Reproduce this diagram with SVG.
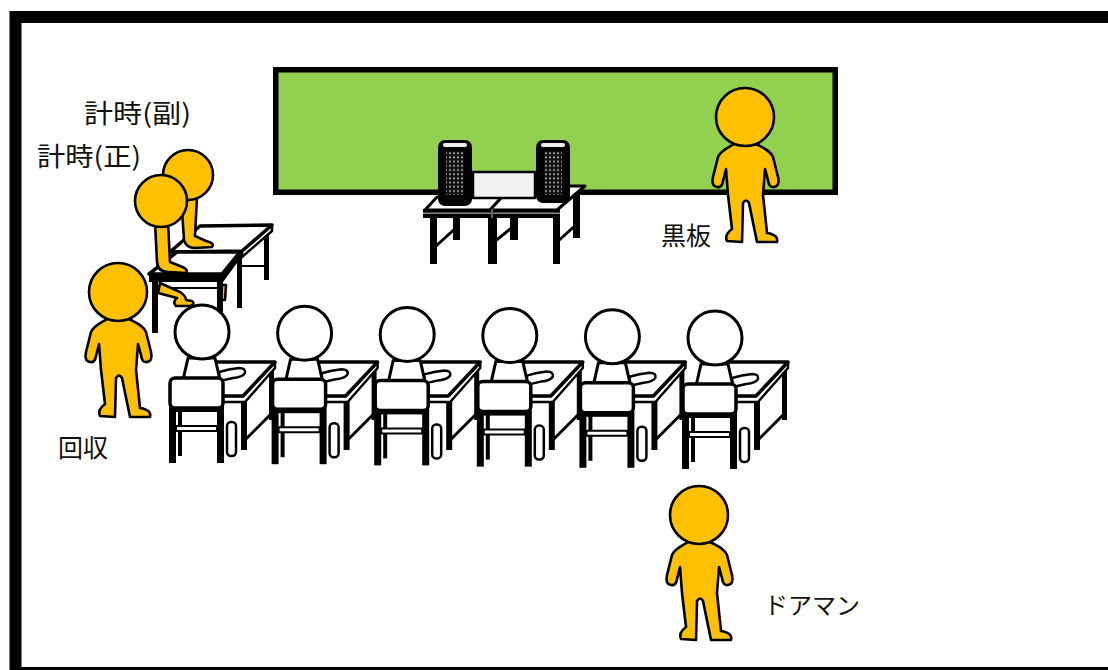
<svg xmlns="http://www.w3.org/2000/svg" width="1108" height="670" viewBox="0 0 1108 670">
  <style>
    .lbl { font-family: "Noto Sans CJK JP", "Noto Sans", sans-serif; fill: #111; }
    .ink { fill: #000; }
    .wht { fill: #fff; stroke: #000; stroke-linejoin: round; }
    .org { fill: #FFC000; stroke: #000; stroke-width: 2.6; stroke-linejoin: round; }
  </style>
  <defs>
    <pattern id="grill" width="4" height="4.2" patternUnits="userSpaceOnUse">
      <rect width="4" height="4.2" fill="#111"/>
      <circle cx="2" cy="2" r="0.9" fill="#c8c8c8"/>
    </pattern>
    <!-- pupil desk, origin = back-right corner of the desk top -->
    <g id="desk">
      <rect class="ink" x="-6" y="2" width="5" height="56"/>
      <line x1="-4" y1="52" x2="-30" y2="78" stroke="#000" stroke-width="3"/>
      <rect class="ink" x="-34" y="36" width="6" height="52"/>
      <polygon class="wht" stroke-width="2.5" points="0,0 0,6 -30,40 -94,40 -94,34 -32,34"/>
      <polygon class="wht" stroke-width="3.5" points="-62,0 0,0 -32,34 -94,34"/>
    </g>
    <!-- pupil seen from behind, with chair -->
    <g id="pupil">
      <path class="wht" stroke-width="3" d="M-87,-4 L-60,-4 L-55,18 L-92,18 Z"/>
      <circle class="wht" stroke-width="3" cx="-73" cy="-30" r="27"/>
      <path class="wht" stroke-width="2.5" d="M-56,10 Q-46,7 -36,6 Q-29,6 -30,11 Q-32,15 -42,16 L-55,19 Z"/>
      <rect class="wht" stroke-width="2.5" x="-48" y="60" width="9" height="34" rx="4"/>
      <rect class="ink" x="-106" y="44" width="7" height="57"/>
      <rect class="ink" x="-97" y="46" width="4" height="48"/>
      <rect class="ink" x="-58" y="44" width="7" height="57"/>
      <rect class="wht" stroke-width="2" x="-99" y="64" width="41" height="5"/>
      <rect class="ink" x="-105" y="44" width="53" height="6"/>
      <rect class="wht" stroke-width="3.5" x="-105" y="16" width="53" height="30" rx="5"/>
    </g>
    <!-- standing figure, origin = head centre -->
    <g id="standing">
      <path class="org" d="M-11,27 C-17,31 -24,33 -27,40 L-32,60 Q-34,69 -28,70 Q-23,71 -22,64 L-19,52 L-17,78 L-13,112 Q-21,118 -18,124 L-3,125 L-2,86 Q1,81 4,86 L12,125 L32,125 Q34,118 22,116 L18,78 L20,52 L23,63 Q24,71 29,70 Q35,69 33,60 L28,40 C25,33 18,31 11,27 Z"/>
      <circle class="org" cx="0" cy="0" r="29"/>
    </g>
  </defs>

  <rect width="1108" height="670" fill="#fff"/>

  <!-- room outline -->
  <rect x="15.5" y="17" width="1200" height="656" fill="none" stroke="#000" stroke-width="12"/>

  <!-- blackboard -->
  <rect id="board" x="275.75" y="69.75" width="559.5" height="122.5" fill="#92D050" stroke="#000" stroke-width="5.5"/>

  <!-- teacher's desks with two PCs and a monitor -->
  <g id="pc-desks">
    <rect class="ink" x="573" y="186" width="7" height="52"/>
    <rect class="ink" x="453" y="213" width="7" height="27"/>
    <rect class="ink" x="510" y="213" width="8" height="27"/>
    <line x1="436" y1="246" x2="458" y2="226" stroke="#000" stroke-width="3"/>
    <line x1="494" y1="242" x2="514" y2="226" stroke="#000" stroke-width="3"/>
    <line x1="557" y1="242" x2="577" y2="224" stroke="#000" stroke-width="3"/>
    <rect class="ink" x="430" y="212" width="7" height="52"/>
    <rect class="ink" x="488" y="212" width="9" height="52"/>
    <rect class="ink" x="553" y="212" width="7" height="52"/>
    <polygon class="wht" stroke-width="3" points="437,197 502,197 490,210 425,210"/>
    <polygon class="wht" stroke-width="3" points="512,186 585,186 557,210 490,210"/>
    <rect class="ink" x="423" y="209" width="137" height="4"/>
    <rect x="423" y="212.5" width="137" height="1.5" fill="#888"/>
    <rect class="ink" x="423" y="214" width="137" height="4"/>
    <rect x="491" y="209" width="2" height="9" fill="#666"/>
    <rect class="wht" stroke-width="2.5" x="473" y="172" width="62" height="26" style="fill:#f2f2f2"/>
    <rect class="ink" x="438" y="140" width="34" height="66" rx="7"/>
    <rect x="443" y="143" width="24" height="4" rx="2" fill="#eee"/>
    <rect x="446" y="151" width="18" height="44" fill="url(#grill)"/>
    <rect class="ink" x="536" y="140" width="34" height="63" rx="7"/>
    <rect x="541" y="143" width="24" height="4" rx="2" fill="#eee"/>
    <rect x="544" y="151" width="18" height="44" fill="url(#grill)"/>
  </g>

  <!-- timekeepers at their desks -->
  <g id="timekeepers">
    <rect class="ink" x="264" y="228" width="5" height="52"/>
    <line x1="242" y1="266" x2="265" y2="266" stroke="#000" stroke-width="2"/>
    <rect class="ink" x="237" y="253" width="5" height="55"/>
    <polygon class="wht" stroke-width="2.5" points="272,225 272,231 242,257 242,251"/>
    <polygon class="wht" stroke-width="3.5" points="200,226 272,225 242,251 170,252"/>
    <path class="org" d="M181,196 L184,240 Q186,248 195,248 L212,247 Q215,243 206,241 L195,236 L197,196 Z"/>
    <circle class="org" cx="188" cy="175" r="25"/>
    <path class="org" d="M222,285 L226,285 L225,300 L221,300 Z"/>
    <line x1="157" y1="288" x2="218" y2="288" stroke="#000" stroke-width="2"/>
    <path class="org" d="M160,283 L180,292 Q186,296 186,300 L192,301 Q196,304 190,306 L176,306 Q172,302 177,298 L158,293 Z"/>
    <rect class="ink" x="152" y="280" width="6" height="53"/>
    <rect class="ink" x="217" y="280" width="6" height="50"/>
    <polygon class="ink" points="149,274 222,274 240,252 240,259 223,282 149,282"/>
    <polygon class="wht" stroke-width="3.5" points="177,252 240,252 222,274 149,274"/>
    <path class="org" d="M155,222 L157,262 Q158,272 168,272 L186,273 Q189,269 180,266 L170,262 L168,222 Z"/>
    <circle class="org" cx="161" cy="201" r="26"/>
  </g>

  <!-- pupils, front row from left to right -->
  <g id="seat-1"><use href="#desk" x="275" y="362"/><use href="#pupil" x="275" y="362"/></g>
  <g id="seat-2"><use href="#desk" x="377.6" y="362"/><use href="#pupil" x="377.6" y="363.2"/></g>
  <g id="seat-3"><use href="#desk" x="480.2" y="362"/><use href="#pupil" x="480.2" y="364.4"/></g>
  <g id="seat-4"><use href="#desk" x="582.8" y="362"/><use href="#pupil" x="582.8" y="365.6"/></g>
  <g id="seat-5"><use href="#desk" x="685.4" y="362"/><use href="#pupil" x="685.4" y="366.8"/></g>
  <g id="seat-6"><use href="#desk" x="788" y="362"/><use href="#pupil" x="788" y="368"/></g>

  <!-- staff standing -->
  <g id="collector"><use href="#standing" x="118" y="292"/></g>
  <g id="board-keeper"><use href="#standing" x="745" y="117"/></g>
  <g id="doorman"><use href="#standing" x="699" y="515"/></g>

  <!-- labels -->
  <text class="lbl" x="84" y="123" font-size="26" textLength="107" lengthAdjust="spacingAndGlyphs">計時(副)</text>
  <text class="lbl" x="37" y="166" font-size="26" textLength="104" lengthAdjust="spacingAndGlyphs">計時(正)</text>
  <text class="lbl" x="661" y="245" font-size="25">黒板</text>
  <text class="lbl" x="58" y="457" font-size="25">回収</text>
  <text class="lbl" x="764" y="614" font-size="24">ドアマン</text>
</svg>
